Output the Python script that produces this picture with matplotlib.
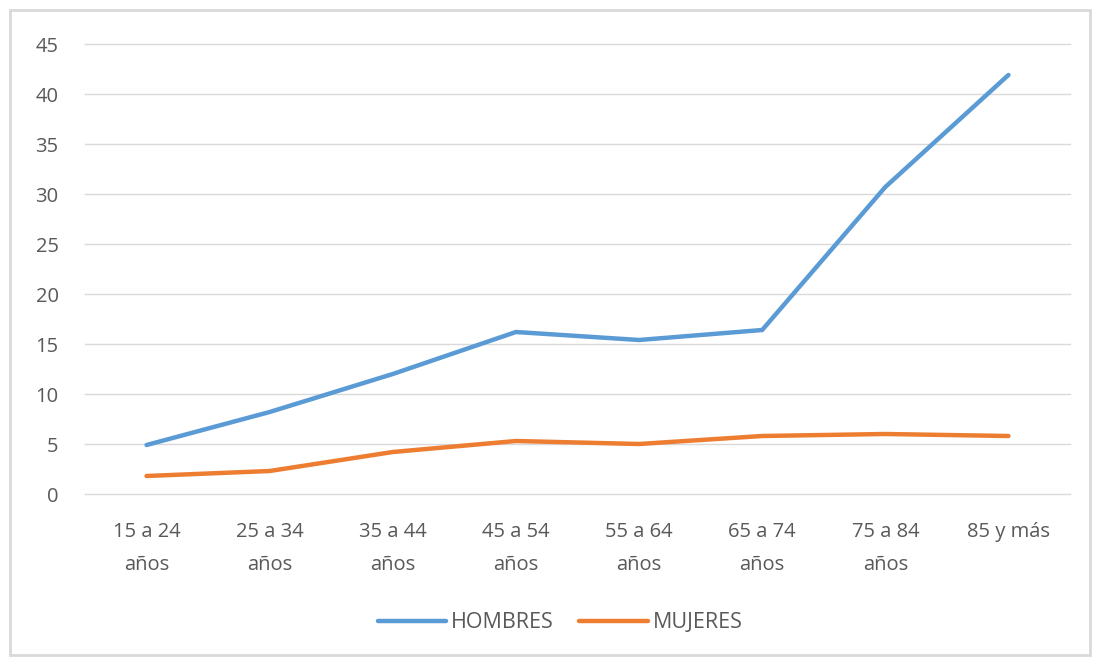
import numpy as np
import matplotlib as mpl
import matplotlib.pyplot as plt
from matplotlib.patches import Rectangle

mpl.rcParams.update({"font.family": ["Open Sans", "DejaVu Sans"]})

# data
grupos = ["15 a 24\naños", "25 a 34\naños", "35 a 44\naños", "45 a 54\naños",
          "55 a 64\naños", "65 a 74\naños", "75 a 84\naños", "85 y más"]
hombres = [4.9, 8.2, 12.0, 16.2, 15.4, 16.4, 30.7, 41.9]
mujeres = [1.8, 2.3, 4.2, 5.3, 5.0, 5.8, 6.0, 5.8]
yticks = list(range(0, 50, 5))

TXT = "#595959"
GRID = "#D9D9D9"

fig = plt.figure(figsize=(10.94, 6.61), dpi=100)
ax = fig.add_axes([85 / 1094, 1 - 494 / 661, (1070 - 85) / 1094, 450 / 661])

# chart border
fig.patches.append(Rectangle((10 / 1094, 6 / 661), 1080 / 1094, 645 / 661,
                             transform=fig.transFigure, fill=False,
                             edgecolor="#D9D9D9", lw=2))

x = np.arange(len(grupos))
ax.plot(x, hombres, color="#5B9BD5", lw=3.2, solid_capstyle="round",
        solid_joinstyle="round", label="HOMBRES")
ax.plot(x, mujeres, color="#ED7D31", lw=3.2, solid_capstyle="round",
        solid_joinstyle="round", label="MUJERES")

ax.set_xlim(-0.5, len(grupos) - 0.5)
ax.set_ylim(0, 45)
ax.set_yticks(yticks)
ax.set_xticks(x)
ax.set_xticklabels(grupos, fontsize=14.5, color=TXT, linespacing=1.9)
ax.tick_params(axis="y", labelsize=14.5, labelcolor=TXT, length=0, pad=19)
ax.tick_params(axis="x", length=0, pad=20)

ax.grid(axis="y", color=GRID, lw=1)
for gl in ax.get_ygridlines():
    gl.set_clip_on(False)
ax.set_axisbelow(True)
for s in ["top", "right", "left", "bottom"]:
    ax.spines[s].set_visible(False)

leg = fig.legend(loc="center", bbox_to_anchor=(560 / 1094, 1 - 623 / 661),
                 ncol=2, frameon=False, fontsize=15.5, handlelength=3.2,
                 handletextpad=0.2, columnspacing=1.2)
for t in leg.get_texts():
    t.set_color(TXT)

fig.savefig("out.png", dpi=100)
